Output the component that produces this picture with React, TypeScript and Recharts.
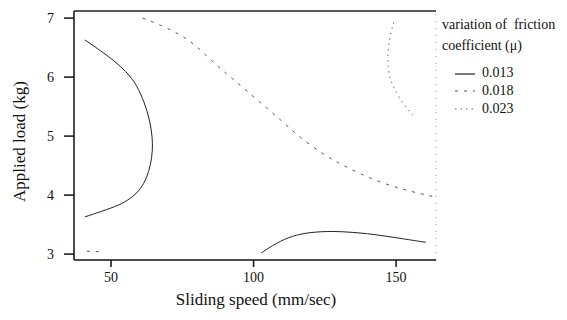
import {
  LineChart,
  Line,
  XAxis,
  YAxis,
  ReferenceLine,
  Legend,
  Label,
} from "recharts";

const xTicks = [50, 100, 150];
const yTicks = [3, 4, 5, 6, 7];
const levels = ["0.013", "0.018", "0.023"];

// sliding speed (mm/sec), applied load (kg)
const mu013Left: [number, number][] = [
  [40.8, 6.63], [49.6, 6.34], [55.5, 6.09], [59.0, 5.87], [61.8, 5.56],
  [63.6, 5.27], [64.5, 4.98], [64.6, 4.76], [63.9, 4.51], [62.5, 4.29],
  [60.4, 4.1], [57.6, 3.97], [53.8, 3.85], [48.9, 3.76], [40.8, 3.63],
];
const mu013Bottom: [number, number][] = [
  [102.7, 3.02], [108.0, 3.19], [113.6, 3.31], [119.5, 3.37], [127.6, 3.39],
  [134.6, 3.37], [141.5, 3.34], [151.0, 3.27], [160.4, 3.2],
];
const mu018Diag: [number, number][] = [
  [61.1, 7.0], [67.4, 6.88], [74.1, 6.73], [80.0, 6.53], [88.0, 6.15],
  [93.3, 5.95], [101.3, 5.61], [109.7, 5.27], [116.0, 4.98], [125.8, 4.65],
  [130.0, 4.54], [144.0, 4.2], [160.4, 4.0], [163.6, 3.97],
];
const mu018Corner: [number, number][] = [
  [41.5, 3.05], [46.0, 3.04],
];
const mu023Right: [number, number][] = [
  [149.2, 6.93], [148.2, 6.76], [147.5, 6.58], [147.1, 6.4], [147.1, 6.17],
  [147.8, 6.0], [148.5, 5.9], [149.9, 5.75], [152.7, 5.53], [156.2, 5.34],
];

const toPts = (arr: [number, number][]) => arr.map(([x, y]) => ({ x, y }));

const serif = "Liberation Serif, Times New Roman, serif";
const dashes = [undefined, "3 6", "1.5 4"];
const strokes = ["#222", "#555", "#666"];

function LegendBox() {
  return (
    <div style={{ fontFamily: serif, fontSize: 14, color: "#111", lineHeight: "21px" }}>
      <div>variation of&nbsp; friction</div>
      <div>coefficient (μ)</div>
      <div style={{ marginTop: 7 }}>
        {levels.map((lv, i) => (
          <div key={lv} style={{ display: "flex", alignItems: "center", height: 18 }}>
            <svg width={30} height={10} style={{ marginLeft: 10 }}>
              <line
                x1={3}
                x2={23}
                y1={i === 0 ? 7 : 6}
                y2={i === 0 ? 7 : 6}
                stroke={strokes[i]}
                strokeWidth={1.2}
                strokeDasharray={dashes[i]}
              />
            </svg>
            <span>{lv}</span>
          </div>
        ))}
      </div>
    </div>
  );
}

export default function App() {
  const series = [
    { key: "a", pts: mu013Left, i: 0, type: "basis" as const },
    { key: "b", pts: mu013Bottom, i: 0, type: "basis" as const },
    { key: "c", pts: mu018Diag, i: 1, type: "basis" as const },
    { key: "d", pts: mu018Corner, i: 1, type: "linear" as const },
    { key: "e", pts: mu023Right, i: 2, type: "basis" as const },
  ];
  return (
    <div style={{ position: "absolute", left: 0, top: 0, width: 567, height: 320, background: "#fff" }}>
      <LineChart width={567} height={320} margin={{ top: 11, right: 131, bottom: 0, left: 0 }}>
        <XAxis
          type="number"
          dataKey="x"
          domain={[37, 164]}
          ticks={xTicks}
          allowDataOverflow
          height={60}
          tickSize={7}
          tickMargin={5}
          stroke="#111"
          strokeWidth={1.5}
          tick={{ fill: "#111", fontSize: 14, fontFamily: serif }}
        >
          <Label
            value="Sliding speed (mm/sec)"
            position="insideBottom"
            offset={15}
            dx={1}
            style={{ fill: "#111", fontSize: 17, fontFamily: serif }}
          />
        </XAxis>
        <YAxis
          type="number"
          dataKey="y"
          domain={[2.9, 7.12]}
          ticks={yTicks}
          allowDataOverflow
          width={74}
          tickSize={10}
          tickMargin={10}
          stroke="#111"
          strokeWidth={1.5}
          tick={{ fill: "#111", fontSize: 14, fontFamily: serif }}
        >
          <Label
            value="Applied load (kg)"
            angle={-90}
            position="insideLeft"
            offset={19}
            dy={6}
            style={{ textAnchor: "middle", fill: "#111", fontSize: 17, fontFamily: serif }}
          />
        </YAxis>
        <ReferenceLine y={7.12} stroke="#222" strokeWidth={1.5} />
        <ReferenceLine x={164} stroke="#999" strokeDasharray="1 6" />
        {series.map((s) => (
          <Line
            key={s.key}
            data={toPts(s.pts)}
            dataKey="y"
            type={s.type}
            stroke={strokes[s.i]}
            strokeWidth={1}
            strokeDasharray={dashes[s.i]}
            dot={false}
            activeDot={false}
            legendType="none"
            isAnimationActive={false}
          />
        ))}
        <Legend
          layout="vertical"
          align="center"
          verticalAlign="middle"
          content={() => <LegendBox />}
          wrapperStyle={{ left: 442, top: 14, width: 125, height: "auto" }}
        />
      </LineChart>
    </div>
  );
}
